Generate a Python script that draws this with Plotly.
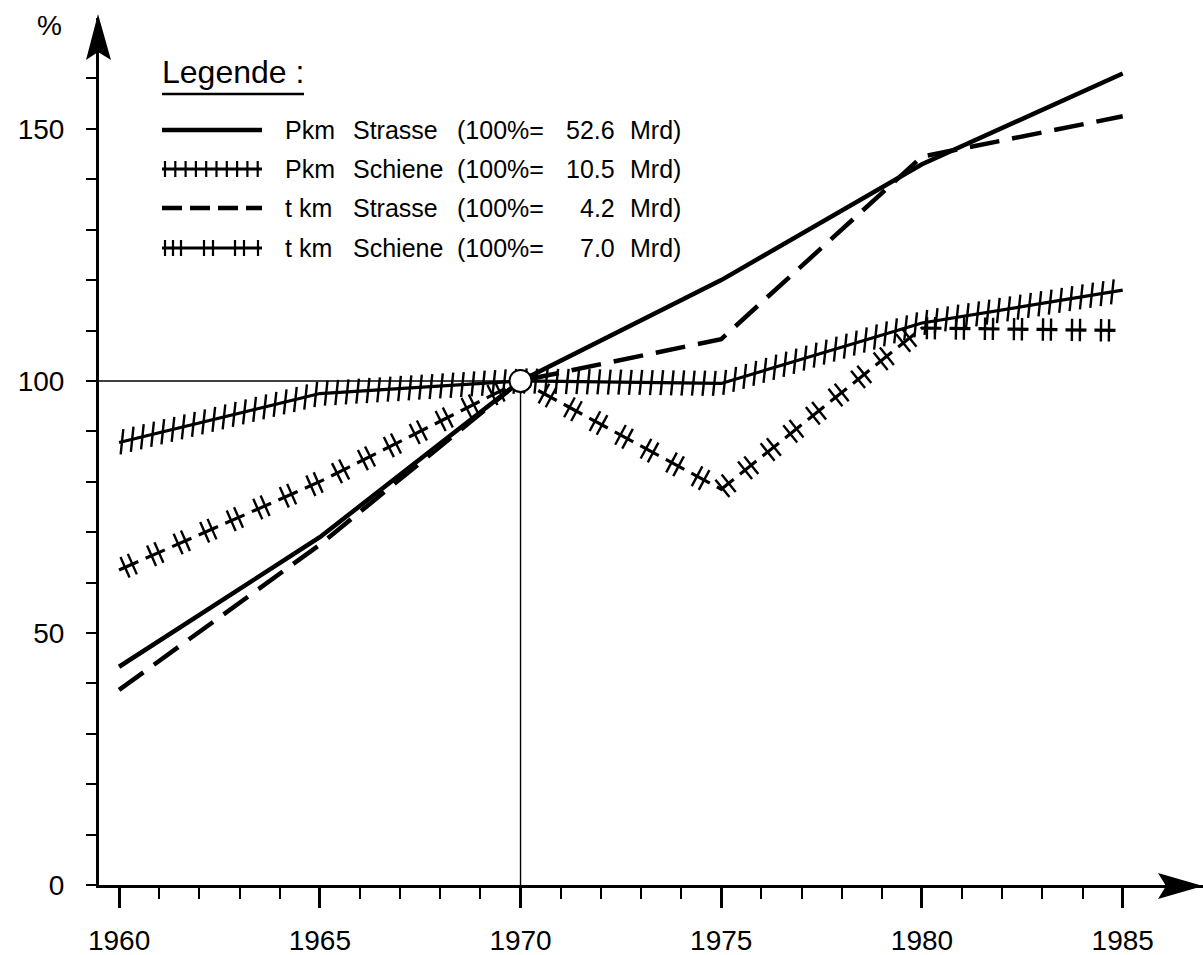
import numpy as np
import plotly.graph_objects as go

# ---- data: index 1970 = 100 ----
years = [1960, 1965, 1970, 1975, 1980, 1985]
pkm_strasse = [43.3, 69.0, 100.0, 120.0, 143.0, 161.0]
pkm_schiene = [87.8, 97.5, 100.0, 99.5, 111.5, 118.0]
tkm_strasse = [38.7, 67.5, 100.0, 108.3, 144.5, 152.5]
tkm_schiene = [62.5, 80.0, 100.0, 78.5, 110.5, 110.0]

base_year = 1970
base_index = 100

x_major = [1960, 1965, 1970, 1975, 1980, 1985]
x_minor = list(range(1960, 1986))
y_major = [0, 50, 100, 150]
y_minor = list(range(0, 161, 10))

legend_title = "Legende :"
legend_units = ["Pkm", "Pkm", "t km", "t km"]
legend_modes = ["Strasse", "Schiene", "Strasse", "Schiene"]
legend_bases = ["52.6", "10.5", "4.2", "7.0"]

# ---- page geometry ----
W, H = 1203, 955
M_L, M_R, M_T, M_B = 99, 0, 18, 70
PLOT_W = W - M_L - M_R
PLOT_H = H - M_T - M_B
X_RANGE = [1959.5, 1987.0]
Y_RANGE = [0, 172]
PX_X = PLOT_W / (X_RANGE[1] - X_RANGE[0])
PX_Y = PLOT_H / (Y_RANGE[1] - Y_RANGE[0])
FONT = "Liberation Sans"
INK = "black"


def px_paper_x(px):
    return (px - M_L) / PLOT_W


def px_paper_y(py):
    return (H - M_B - py) / PLOT_H


def path_sampler(xs, ys):
    """Return a function giving data position and screen angle at a given
    screen arc length along the polyline, plus the cumulative lengths."""
    xs = np.asarray(xs, float)
    ys = np.asarray(ys, float)
    px = (xs - X_RANGE[0]) * PX_X
    py = (ys - Y_RANGE[0]) * PX_Y
    dx, dy = np.diff(px), np.diff(py)
    seg = np.hypot(dx, dy)
    cum = np.concatenate([[0.0], np.cumsum(seg)])

    def at(s):
        s = np.atleast_1d(np.asarray(s, float))
        i = np.clip(np.searchsorted(cum, s, side="right") - 1, 0, len(seg) - 1)
        t = (s - cum[i]) / seg[i]
        x = xs[i] + t * np.diff(xs)[i]
        y = ys[i] + t * np.diff(ys)[i]
        ang = np.degrees(np.arctan2(dy[i], dx[i]))
        return x, y, ang

    return at, cum


fig = go.Figure()

# thin reference lines to the base point
fig.add_trace(go.Scatter(
    x=[X_RANGE[0], base_year, base_year], y=[base_index, base_index, 0],
    mode="lines", line=dict(color=INK, width=1.4),
    hoverinfo="skip", showlegend=False))

# Pkm Strasse: solid
fig.add_trace(go.Scatter(
    x=years, y=pkm_strasse, mode="lines", name="Pkm Strasse",
    line=dict(color=INK, width=4.5), showlegend=False))

# t km Strasse: long dashes
fig.add_trace(go.Scatter(
    x=years, y=tkm_strasse, mode="lines", name="t km Strasse",
    line=dict(color=INK, width=4.5, dash="30px,13px"), showlegend=False))

# Pkm Schiene: line with single cross ticks
fig.add_trace(go.Scatter(
    x=years, y=pkm_schiene, mode="lines", name="Pkm Schiene",
    line=dict(color=INK, width=3.2), showlegend=False))
at, cum = path_sampler(years, pkm_schiene)
hx, hy, _ = at(np.arange(3.0, cum[-1], 10.5))
fig.add_trace(go.Scatter(
    x=hx, y=hy, mode="markers", hoverinfo="skip", showlegend=False,
    marker=dict(symbol="line-ns", size=18, angle=6,
                line=dict(color=INK, width=2.4))))

# t km Schiene: broken line, each piece crossed by a pair of ticks
at, cum = path_sampler(years, tkm_schiene)
period, piece = 29.0, 21.0
starts = np.arange(0.0, cum[-1] - 4, period)
seg_x, seg_y = [], []
for s0 in starts:
    s1 = min(s0 + piece, cum[-1])
    inner = [s for s in cum[1:-1] if s0 < s < s1]
    sx, sy, _ = at([s0] + inner + [s1])
    seg_x += list(sx) + [None]
    seg_y += list(sy) + [None]
fig.add_trace(go.Scatter(
    x=seg_x, y=seg_y, mode="lines", name="t km Schiene",
    line=dict(color=INK, width=3.2), hoverinfo="skip", showlegend=False))
tick_s = np.concatenate([starts + 6.5, starts + 14.5])
tick_s = tick_s[tick_s < cum[-1]]
tx, ty, ta = at(tick_s)
fig.add_trace(go.Scatter(
    x=tx, y=ty, mode="markers", hoverinfo="skip", showlegend=False,
    marker=dict(symbol="line-ns", size=16, angle=list(-ta),
                line=dict(color=INK, width=2.4))))

# open circle at the base point
fig.add_trace(go.Scatter(
    x=[base_year], y=[base_index], mode="markers", hoverinfo="skip",
    showlegend=False,
    marker=dict(symbol="circle", size=22, color="white",
                line=dict(color=INK, width=2))))

# ---- axis arrows ----
shapes = []
shapes.append(dict(
    type="path", xref="paper", yref="paper", line=dict(width=0), fillcolor=INK,
    path=(f"M {px_paper_x(M_L - 1)},{px_paper_y(14)} "
          f"L {px_paper_x(M_L - 13)},{px_paper_y(60)} "
          f"L {px_paper_x(M_L - 1)},{px_paper_y(52)} "
          f"L {px_paper_x(M_L + 12)},{px_paper_y(60)} Z")))
shapes.append(dict(
    type="path", xref="paper", yref="paper", line=dict(width=0), fillcolor=INK,
    path=(f"M {px_paper_x(1203)},{px_paper_y(886)} "
          f"L {px_paper_x(1158)},{px_paper_y(873)} "
          f"L {px_paper_x(1166)},{px_paper_y(886)} "
          f"L {px_paper_x(1158)},{px_paper_y(899)} Z")))

# ---- legend ----
annotations = []
annotations.append(dict(
    text=legend_title, xref="paper", yref="paper",
    x=px_paper_x(160), y=px_paper_y(72), xanchor="left", yanchor="middle",
    showarrow=False, font=dict(family=FONT, size=32, color=INK)))
shapes.append(dict(type="line", xref="paper", yref="paper",
                   x0=px_paper_x(162), x1=px_paper_x(304),
                   y0=px_paper_y(94), y1=px_paper_y(94),
                   line=dict(color=INK, width=2.5)))

row_y = [130, 169, 208, 248]
sx0, sx1 = 162, 262


def hline(x0, x1, y, width, dash="solid"):
    return dict(type="line", xref="paper", yref="paper",
                x0=px_paper_x(x0), x1=px_paper_x(x1),
                y0=px_paper_y(y), y1=px_paper_y(y),
                line=dict(color=INK, width=width, dash=dash))


def vtick(x, y, half):
    return dict(type="line", xref="paper", yref="paper",
                x0=px_paper_x(x), x1=px_paper_x(x),
                y0=px_paper_y(y - half), y1=px_paper_y(y + half),
                line=dict(color=INK, width=2.2))


shapes.append(hline(sx0, sx1, row_y[0], 4.5))
shapes.append(hline(sx0, sx1, row_y[1], 3))
for k in range(10):
    shapes.append(vtick(sx0 + 3 + k * 10.3, row_y[1], 8))
shapes.append(hline(sx0, sx1, row_y[2], 4.5, "20px,8px"))
shapes.append(hline(sx0, sx1, row_y[3], 3))
for off in [3, 11, 19, 42, 51, 73, 82, 96]:
    shapes.append(vtick(sx0 + off, row_y[3], 8))

for i, yy in enumerate(row_y):
    for txt, xx, anchor in [(legend_units[i], 283, "left"),
                            (legend_modes[i], 351, "left"),
                            ("(100%=", 455, "left"),
                            (legend_bases[i], 617, "right"),
                            ("Mrd)", 628, "left")]:
        annotations.append(dict(
            text=txt, xref="paper", yref="paper",
            x=px_paper_x(xx), y=px_paper_y(yy), xanchor=anchor,
            yanchor="middle", showarrow=False,
            font=dict(family=FONT, size=25, color=INK)))

# axis unit label
annotations.append(dict(
    text="%", xref="paper", yref="paper", x=px_paper_x(49), y=px_paper_y(25),
    xanchor="center", yanchor="middle", showarrow=False,
    font=dict(family=FONT, size=28, color=INK)))

fig.update_layout(
    width=W, height=H,
    margin=dict(l=M_L, r=M_R, t=M_T, b=M_B, pad=0),
    paper_bgcolor="white", plot_bgcolor="white",
    font=dict(family=FONT, color=INK),
    shapes=shapes, annotations=annotations, showlegend=False,
    xaxis=dict(
        range=X_RANGE, showgrid=False, zeroline=False,
        showline=True, linecolor=INK, linewidth=3,
        tickmode="array", tickvals=x_major,
        ticktext=[str(v) for v in x_major],
        ticks="outside", ticklen=20, tickwidth=2.6, tickcolor=INK,
        tickfont=dict(family=FONT, size=28, color=INK),
        ticklabelstandoff=8,
        minor=dict(tickmode="array", tickvals=x_minor, ticks="outside",
                   ticklen=11, tickwidth=2.2, tickcolor=INK)),
    yaxis=dict(
        range=Y_RANGE, showgrid=False, zeroline=False,
        showline=True, linecolor=INK, linewidth=3,
        tickmode="array", tickvals=y_major,
        ticktext=[str(v) for v in y_major],
        ticks="outside", ticklen=10, tickwidth=2.4, tickcolor=INK,
        tickfont=dict(family=FONT, size=28, color=INK),
        ticklabelstandoff=16,
        minor=dict(tickmode="array", tickvals=y_minor, ticks="outside",
                   ticklen=10, tickwidth=2.2, tickcolor=INK)),
)

fig.write_html("out.html")
